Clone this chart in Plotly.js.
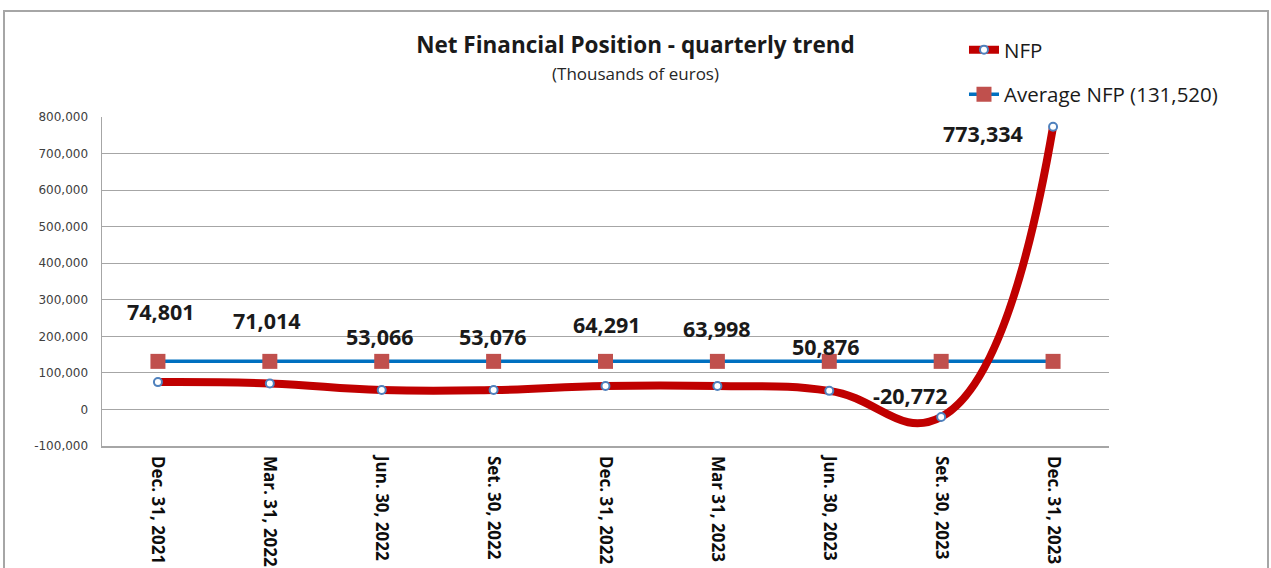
<!DOCTYPE html>
<html>
<head>
<meta charset="utf-8">
<script src="https://cdn.plot.ly/plotly-3.0.1.min.js"></script>
<style>
  html, body { margin: 0; padding: 0; background: #ffffff; }
  #wrap { position: relative; width: 1271px; height: 568px; overflow: hidden; }
  #chart { width: 1271px; height: 568px; }
  #frame { position: absolute; left: 3px; top: 10px; width: 1266px; height: 600px;
           border: 2px solid #a6a6a6; box-sizing: border-box; pointer-events: none; }
</style>
</head>
<body>
<div id="wrap">
  <div id="chart"></div>
  <div id="frame"></div>
</div>
<script>
const categories = ["Dec. 31, 2021", "Mar. 31, 2022", "Jun. 30, 2022", "Set. 30, 2022", "Dec. 31, 2022",
                    "Mar 31, 2023", "Jun. 30, 2023", "Set. 30, 2023", "Dec. 31, 2023"];
const nfpValues = [74801, 71014, 53066, 53076, 64291, 63998, 50876, -20772, 773334];
const nfpLabels = ["74,801", "71,014", "53,066", "53,076", "64,291", "63,998", "50,876", "-20,772", "773,334"];
const averageValues = [131520, 131520, 131520, 131520, 131520, 131520, 131520, 131520, 131520];
const yTickValues = [-100000, 0, 100000, 200000, 300000, 400000, 500000, 600000, 700000, 800000];
const yTickLabels = ["-100,000", "0", "100,000", "200,000", "300,000", "400,000", "500,000", "600,000", "700,000", "800,000"];
const subtitleText = "(Thousands of euros)";

// label offsets (pixels) relative to each point
const labelDx = [3, -3, -2, -1, 1, 0, -3, -31, -70];
const labelDy = [71, 63, 54, 54, 61, 58, 44, 22, -7];

const traces = [
  {
    x: categories, y: averageValues, type: "scatter", mode: "lines+markers",
    name: "Average NFP (131,520)", legendrank: 2, legendgroup: "b",
    line: { color: "#0070c0", width: 3.5 },
    marker: { symbol: "square", size: 15, color: "#c0504d" },
    hoverinfo: "skip"
  },
  {
    x: categories, y: nfpValues, type: "scatter", mode: "lines+markers",
    name: "NFP", legendrank: 1, legendgroup: "a",
    line: { color: "#c00000", width: 8, shape: "spline", smoothing: 1.3 },
    marker: { symbol: "circle", size: 8, color: "#ffffff", line: { color: "#4f81bd", width: 2 } },
    hoverinfo: "skip"
  }
];

const annotations = categories.map((c, i) => ({
  x: c, y: nfpValues[i], xref: "x", yref: "y",
  text: "<b>" + nfpLabels[i] + "</b>", showarrow: false,
  xshift: labelDx[i], yshift: labelDy[i],
  font: { family: "Open Sans", size: 21.5, color: "#1a1a1a" }
}));
annotations.push({
  x: (635 - 102) / 1007, y: (446 - 74) / 329, xref: "paper", yref: "paper",
  xanchor: "center", yanchor: "middle", showarrow: false,
  text: subtitleText,
  font: { family: "Open Sans", size: 17, color: "#262626" }
});

const layout = {
  width: 1271, height: 568,
  paper_bgcolor: "#ffffff", plot_bgcolor: "#ffffff",
  margin: { l: 102, r: 162, t: 117, b: 122 },
  title: {
    text: "<b>Net Financial Position - quarterly trend</b>",
    font: { family: "Open Sans", size: 22.5, color: "#1a1a1a" },
    x: 0.5, xref: "container", xanchor: "center",
    y: 1 - 45 / 568, yref: "container", yanchor: "middle"
  },
  showlegend: true,
  legend: {
    x: 0.856, xanchor: "left", y: 1.265, yanchor: "top",
    font: { family: "Open Sans", size: 20.5, color: "#1a1a1a" },
    bgcolor: "rgba(0,0,0,0)", tracegroupgap: 15, traceorder: "grouped"
  },
  xaxis: {
    type: "category", range: [-0.5, 8.5],
    tickangle: 90, showgrid: false, zeroline: false,
    showline: true, linecolor: "#a6a6a6", linewidth: 1.5,
    ticks: "", ticklabelstandoff: 5,
    tickfont: { family: "Open Sans", size: 17, color: "#0d0d0d", weight: "bold" },
    fixedrange: true
  },
  yaxis: {
    range: [-100000, 800000], tickvals: yTickValues, ticktext: yTickLabels,
    showgrid: true, gridcolor: "#a6a6a6", gridwidth: 1,
    zeroline: true, zerolinecolor: "#a6a6a6", zerolinewidth: 1,
    showline: true, linecolor: "#a6a6a6", linewidth: 1.5,
    ticks: "", ticklabelstandoff: 10,
    tickfont: { family: "DejaVu Sans", size: 12, color: "#404040" },
    fixedrange: true
  },
  annotations: annotations
};

Plotly.newPlot("chart", traces, layout, { displayModeBar: false, staticPlot: true });
</script>
</body>
</html>
